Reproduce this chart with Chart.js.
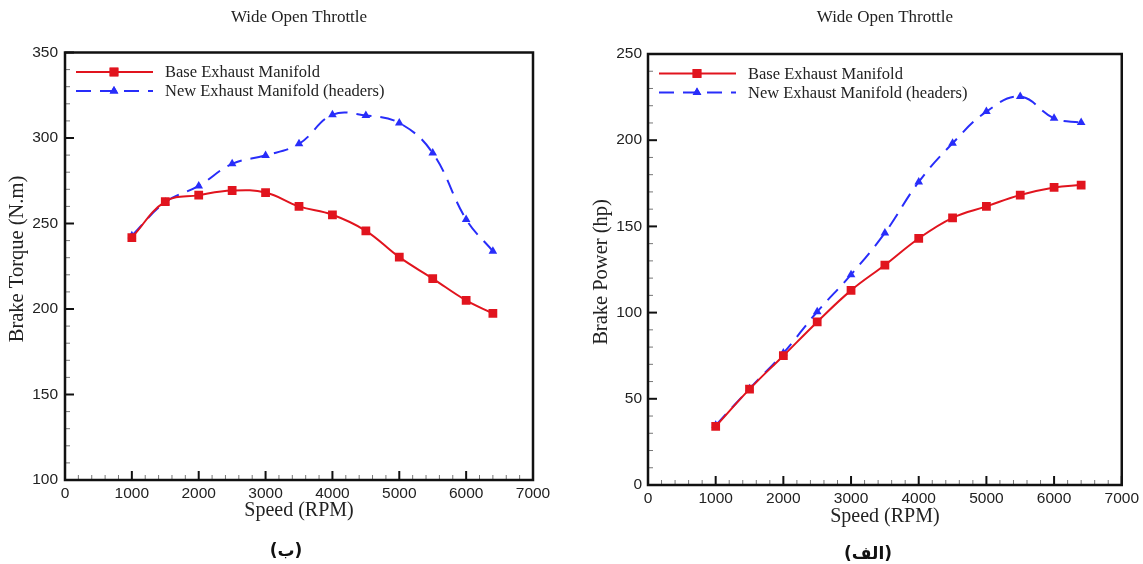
<!DOCTYPE html>
<html><head><meta charset="utf-8">
<script src="https://cdn.jsdelivr.net/npm/chart.js@4.4.0/dist/chart.umd.min.js"></script>
<style>
html,body{margin:0;padding:0;background:#fff;width:1143px;height:564px;overflow:hidden;}
.box{position:absolute;top:0;height:564px;}
.cap{position:absolute;font-family:"DejaVu Sans";font-weight:bold;font-size:17px;color:#111;transform:translate(-50%,-50%);white-space:nowrap;}
</style></head><body>
<div class="box" style="left:0;width:571px"><canvas id="c1"></canvas></div>
<div class="box" style="left:571px;width:572px"><canvas id="c2"></canvas></div>
<div class="cap" style="left:286px;top:550px" dir="rtl">(ب)</div>
<div class="cap" style="left:868px;top:553px" dir="rtl">(الف)</div>
<script>
// ---- data ----
const speed = [1000,1500,2000,2500,3000,3500,4000,4500,5000,5500,6000,6400];
const torqueBase = [241.8,262.8,266.6,269.3,268.1,260.0,255.1,245.7,230.3,217.8,205.0,197.4];
const torqueNew  = [242.8,262.5,272.0,284.9,289.8,296.6,313.6,313.2,308.8,291.2,252.4,233.8];
const powerBase  = [34.0,55.6,75.0,94.6,112.9,127.6,143.0,155.0,161.6,168.2,172.6,174.0];
const powerNew   = [34.6,55.8,76.5,100.5,122.0,146.2,175.8,198.2,216.6,225.3,212.7,210.2];
const seriesNames = ['Base Exhaust Manifold','New Exhaust Manifold (headers)'];
const chartTitle = 'Wide Open Throttle';
const xTitle = 'Speed (RPM)';
const xTickValues = [0,1000,2000,3000,4000,5000,6000,7000];
const torqueTickValues = [100,150,200,250,300,350];
const powerTickValues = [0,50,100,150,200,250];

const RED = 'rgb(225,20,30)';
const BLUE = 'rgb(40,45,250)';
const SERIF = '"Liberation Serif", "Times New Roman", serif';
const SANS = '"Liberation Sans", Arial, sans-serif';

function makePlugin(cfg){
  return {
    id:'deco',
    afterDraw(chart){
      const ctx = chart.ctx, a = chart.chartArea;
      const xs = chart.scales.x, ys = chart.scales.y;
      ctx.save();
      // ticks (inward)
      for(let v = xs.min; v <= xs.max + 1e-6; v += 200){
        const px = xs.getPixelForValue(v);
        const major = Math.abs(v % 1000) < 1e-6;
        ctx.lineWidth = major ? 2 : 1;
        ctx.strokeStyle = major ? '#111' : '#777';
        ctx.beginPath(); ctx.moveTo(px, a.bottom); ctx.lineTo(px, a.bottom - (major ? 9 : 5)); ctx.stroke();
      }
      for(let v = ys.min; v <= ys.max + 1e-6; v += cfg.yMinor){
        const py = ys.getPixelForValue(v);
        const major = Math.abs((v - ys.min) % cfg.yMajor) < 1e-6;
        ctx.lineWidth = major ? 2 : 1;
        ctx.strokeStyle = major ? '#111' : '#777';
        ctx.beginPath(); ctx.moveTo(a.left, py); ctx.lineTo(a.left + (major ? 9 : 5), py); ctx.stroke();
      }
      // frame
      ctx.strokeStyle = '#111'; ctx.lineWidth = 2.5;
      ctx.strokeRect(a.left, a.top, a.right - a.left, a.bottom - a.top);
      // titles
      ctx.fillStyle = '#222';
      ctx.textAlign = 'center'; ctx.textBaseline = 'middle';
      ctx.font = '17px ' + SERIF;
      ctx.fillText(chartTitle, (a.left + a.right)/2, 18);
      ctx.font = '20px ' + SERIF;
      ctx.fillText(xTitle, (a.left + a.right)/2, cfg.xTitleY);
      ctx.save();
      ctx.translate(cfg.yTitleX, cfg.yTitleY); ctx.rotate(-Math.PI/2);
      ctx.font = '20.5px ' + SERIF;
      ctx.fillText(cfg.yTitle, 0, 0);
      ctx.restore();
      // legend
      const rows = [
        {c:RED, dash:[], style:'rect', r:6.2, y:a.top + 19.5},
        {c:BLUE, dash:[15,9], style:'triangle', r:5, y:a.top + 38.5}
      ];
      rows.forEach((rw, i) => {
        ctx.strokeStyle = rw.c; ctx.lineWidth = 2; ctx.setLineDash(rw.dash);
        ctx.beginPath(); ctx.moveTo(a.left + 11, rw.y); ctx.lineTo(a.left + 88, rw.y); ctx.stroke();
        ctx.setLineDash([]);
        ctx.fillStyle = rw.c;
        Chart.helpers.drawPoint(ctx, {pointStyle: rw.style, radius: rw.r, borderWidth: 0}, a.left + 49, rw.y);
        ctx.fill();
        ctx.fillStyle = '#222';
        ctx.textAlign = 'left';
        ctx.font = '16.5px ' + SERIF;
        ctx.fillText(seriesNames[i], a.left + 100, rw.y + 1);
      });
      ctx.restore();
    }
  };
}

function makeChart(id, base, nw, cfg){
  return new Chart(document.getElementById(id), {
    type:'line',
    data:{
      labels: speed,
      datasets:[
        {label:seriesNames[0], data: speed.map((s,i)=>({x:s,y:base[i]})), borderColor:RED, backgroundColor:RED,
         borderWidth:2, tension:0.4, pointStyle:'rect', pointRadius:6.2, pointBorderWidth:0, pointBackgroundColor:RED},
        {label:seriesNames[1], data: speed.map((s,i)=>({x:s,y:nw[i]})), borderColor:BLUE, backgroundColor:BLUE,
         borderWidth:2, borderDash:[15,9], tension:0.4, pointStyle:'triangle', pointRadius:5, pointBorderWidth:0, pointBackgroundColor:BLUE}
      ]
    },
    options:{
      responsive:true, maintainAspectRatio:false, animation:false,
      layout:{padding:{left:0, right:cfg.padRight, top:cfg.top, bottom:0}},
      plugins:{legend:{display:false}, tooltip:{enabled:false}, title:{display:false}},
      scales:{
        x:{type:'linear', min:xTickValues[0], max:xTickValues[xTickValues.length-1],
           afterBuildTicks(s){ s.ticks = xTickValues.map(v=>({value:v})); },
           afterFit(s){ s.height = 564 - cfg.bottom; },
           grid:{display:false, drawTicks:false, tickLength:0}, border:{display:false},
           ticks:{color:'#222', font:{family:SANS, size:15.5}, padding:4, maxRotation:0, autoSkip:false,
                  callback:(v)=>String(v)}},
        y:{type:'linear', min:cfg.yTicks[0], max:cfg.yTicks[cfg.yTicks.length-1],
           afterBuildTicks(s){ s.ticks = cfg.yTicks.map(v=>({value:v})); },
           afterFit(s){ s.width = cfg.left; },
           grid:{display:false, drawTicks:false, tickLength:0}, border:{display:false},
           ticks:{color:'#222', font:{family:SANS, size:15.5}, padding:cfg.yPad, autoSkip:false,
                  callback:(v)=>String(v)}}
      }
    },
    plugins:[makePlugin(cfg)]
  });
}

makeChart('c1', torqueBase, torqueNew, {
  left:65, padRight:571-533, top:52.5, bottom:480, yPad:7,
  yTicks:torqueTickValues, yMinor:10, yMajor:50,
  yTitle:'Brake Torque (N.m)', yTitleX:18, yTitleY:259, xTitleY:511
});
makeChart('c2', powerBase, powerNew, {
  left:77, padRight:572-551, top:54, bottom:485, yPad:6,
  yTicks:powerTickValues, yMinor:10, yMajor:50,
  yTitle:'Brake Power (hp)', yTitleX:31, yTitleY:272, xTitleY:517
});
</script>
</body></html>
